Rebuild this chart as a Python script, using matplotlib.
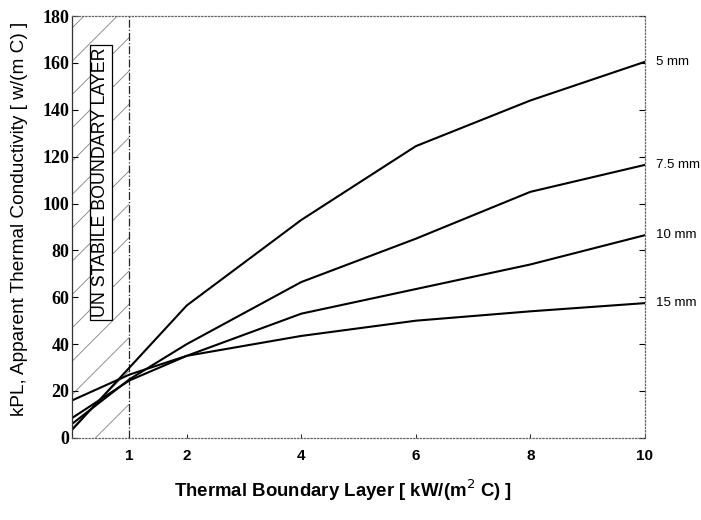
import numpy as np
import matplotlib.pyplot as plt

# thermal boundary layer values [kW/(m2 C)]
h = [0, 1, 2, 4, 6, 8, 10]

# apparent thermal conductivity for each layer thickness
k_5mm = [3.5, 30, 56.5, 93, 124.5, 144, 160.5]
k_7_5mm = [6, 25, 40, 66.5, 85, 105, 116.5]
k_10mm = [8.5, 24.5, 35, 53, 63.5, 74, 86.5]
k_15mm = [16, 27, 35, 43.5, 50, 54, 57.5]

curve_labels = ["5 mm", "7.5 mm", "10 mm", "15 mm"]
x_ticks = [1, 2, 4, 6, 8, 10]
y_ticks = [0, 20, 40, 60, 80, 100, 120, 140, 160, 180]

plt.rcParams['hatch.linewidth'] = 0.6

fig = plt.figure(figsize=(7.01, 5.2), dpi=100)
ax = fig.add_axes([0.103, 0.158, 0.817, 0.811])

# unstable region, hatched
ax.axvspan(0, 1, facecolor='none', edgecolor='0.5', hatch='/', linewidth=0)
ax.axvline(1, color='0.15', linestyle='-.', linewidth=0.9)
ax.text(0.5, 109, "UN STABILE BOUNDARY LAYER", rotation=90, ha='center', va='center',
        fontsize=12.8, family='Liberation Sans',
        bbox=dict(boxstyle='square,pad=0.15', facecolor='white', edgecolor='black', linewidth=0.9))

for vals, lab in zip([k_5mm, k_7_5mm, k_10mm, k_15mm], curve_labels):
    ax.plot(h, vals, color='black', linewidth=1.5)
    ax.text(10.2, vals[-1], lab, ha='left', va='center', fontsize=9.5,
            family='Liberation Sans', clip_on=False)

ax.set_xlim(0, 10)
ax.set_ylim(0, 180)
ax.set_xticks(x_ticks)
ax.set_yticks(y_ticks)
ax.set_xticklabels([str(t) for t in x_ticks], family='Liberation Sans', fontweight='bold', fontsize=11)
ax.set_yticklabels([str(t) for t in y_ticks], family='Liberation Serif', fontweight='bold', fontsize=13)
ax.tick_params(axis='y', direction='in', length=4, width=0.8, right=True, pad=2)
ax.tick_params(axis='x', direction='in', length=3, width=0.6, pad=8)

for side in ['top', 'right', 'bottom']:
    ax.spines[side].set_linestyle(':')
    ax.spines[side].set_color('0.4')
    ax.spines[side].set_linewidth(0.9)
ax.spines['left'].set_color('0.2')
ax.spines['left'].set_linewidth(0.9)

ax.set_xlabel("Thermal Boundary Layer [ kW/(m$^2$ C) ]", family='Liberation Sans',
              fontweight='bold', fontsize=13.4)
ax.set_ylabel("kPL, Apparent Thermal Conductivity [ w/(m C) ]", family='Liberation Sans',
              fontsize=13.7)
ax.xaxis.set_label_coords(0.473, -0.095)
ax.yaxis.set_label_coords(-0.077, 0.519)

fig.savefig("out.png", dpi=100)
